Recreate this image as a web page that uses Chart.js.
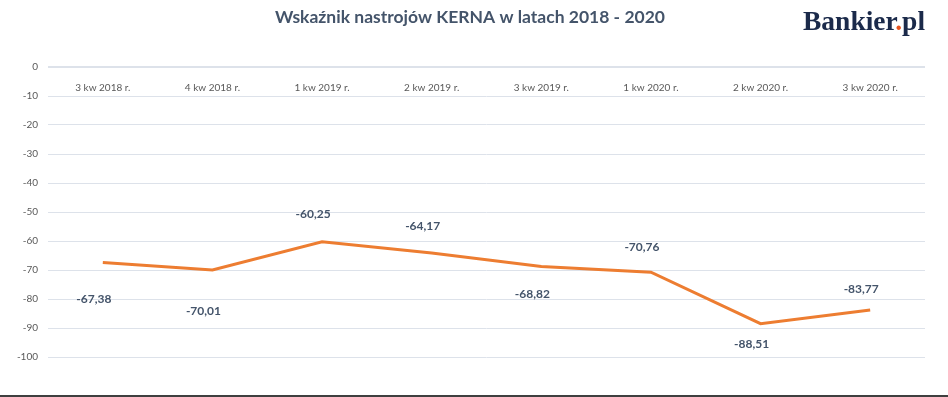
<!DOCTYPE html>
<html>
<head>
<meta charset="utf-8">
<script src="https://cdn.jsdelivr.net/npm/chart.js@4/dist/chart.umd.min.js"></script>
<style>
  html, body { margin: 0; padding: 0; background: #fff; }
  #wrap { position: relative; width: 948px; height: 397px; box-sizing: border-box; border-bottom: 2px solid #3f3f3f; }
  #logo { position: absolute; left: 803px; top: 5px; font-family: "Liberation Serif", serif; font-weight: bold; font-size: 27.5px; color: #1b2a4a; }
  #logo span { color: #e8541e; }
</style>
</head>
<body>
<div id="wrap">
  <canvas id="kerna" width="948" height="395"></canvas>
  <div id="logo">Bankier<span>.</span>pl</div>
</div>
<script>
    // dane z wykresu
    var kwartaly = ['3 kw 2018 r.', '4 kw 2018 r.', '1 kw 2019 r.', '2 kw 2019 r.', '3 kw 2019 r.', '1 kw 2020 r.', '2 kw 2020 r.', '3 kw 2020 r.'];
    var wskaznik = [-67.38, -70.01, -60.25, -64.17, -68.82, -70.76, -88.51, -83.77];
    var osY = [0, -10, -20, -30, -40, -50, -60, -70, -80, -90, -100];

    // etykiety wartosci, przesuniecie w pionie jak na oryginale
    const valueLabels = {
        id: 'valueLabels',
        afterDatasetsDraw(chart, args, opts) {
            const ctx = chart.ctx;
            const meta = chart.getDatasetMeta(0);
            ctx.save();
            ctx.font = 'bold 12px Lato';
            ctx.fillStyle = '#44546a';
            ctx.textAlign = 'center';
            ctx.textBaseline = 'middle';
            meta.data.forEach(function (pt, i) {
                var txt = wskaznik[i].toFixed(2).replace('.', ',');
                ctx.fillText(txt, pt.x + opts.dx, pt.y + opts.dy[i]);
            });
            ctx.restore();
        }
    };

    const chart = document.getElementById('kerna');

    new Chart(chart, {
        type: 'line',
        data: {
            labels: kwartaly,
            datasets: [{
                data: wskaznik,
                borderColor: '#ed7d31',
                borderWidth: 3,
                pointRadius: 0,
                tension: 0,
                fill: false
            }]
        },
        options: {
            responsive: false,
            animation: false,
            layout: { padding: { left: 15, right: 23, top: 0, bottom: 38 } },
            plugins: {
                legend: { display: false },
                tooltip: { enabled: false },
                title: {
                    display: true,
                    text: 'Wskaźnik nastrojów KERNA w latach 2018 - 2020',
                    color: '#44546a',
                    font: { family: 'Lato', size: 17.5, weight: 'bold', lineHeight: 1.2 },
                    padding: { top: 7, bottom: 39 }
                },
                valueLabels: {
                    dx: -9,
                    dy: [37, 41, -28, -27, 28, -25, 20, -21]
                }
            },
            scales: {
                x: {
                    position: { y: 0 },
                    offset: true,
                    afterFit: function (s) { s.height = 0; },
                    grid: { display: false },
                    border: { display: false },
                    ticks: {
                        color: '#595959',
                        font: { family: 'Lato', size: 10 },
                        padding: 7,
                        maxRotation: 0
                    }
                },
                y: {
                    min: -100,
                    max: 0,
                    afterFit: function (s) { s.width = 33; },
                    afterBuildTicks: function (s) { s.ticks = osY.map(function (v) { return { value: v }; }); },
                    border: { display: false },
                    grid: {
                        color: '#dde2ea',
                        lineWidth: function (c) { return c.tick && c.tick.value === 0 ? 2 : 1; },
                        drawTicks: false
                    },
                    ticks: {
                        color: '#595959',
                        font: { family: 'Lato', size: 10 },
                        padding: 10
                    }
                }
            }
        },
        plugins: [valueLabels]
    });
</script>
</body>
</html>
